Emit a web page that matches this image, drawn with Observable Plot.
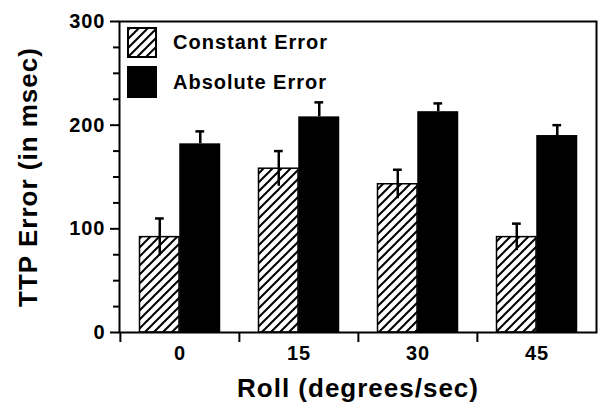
<!DOCTYPE html>
<html>
<head>
<meta charset="utf-8">
<script src="https://cdn.jsdelivr.net/npm/d3@7"></script>
<script src="https://cdn.jsdelivr.net/npm/@observablehq/plot@0.6"></script>
<style>
  body { margin: 0; background: #fff; }
  #wrap { position: relative; width: 600px; height: 406px; font-family: "Liberation Sans", Arial, Helvetica, sans-serif; font-weight: bold; color: #000; }
  .item { position: absolute; left: 127px; display: flex; align-items: center; }
  .box { width: 30px; height: 31px; box-sizing: border-box; border: 2px solid #000; }
  .box svg { display: block; }
  .lab { margin-left: 16px; font-size: 20px; letter-spacing: 1px; }
</style>
</head>
<body>
<svg width="0" height="0" style="position:absolute">
  <defs>
    <pattern id="hatch" patternUnits="userSpaceOnUse" width="9" height="9">
      <path d="M0,9 L9,0 M-2,2 L2,-2 M7,11 L11,7" stroke="#000" stroke-width="2"/>
    </pattern>
  </defs>
</svg>
<div id="wrap"></div>
<script>
const rolls = ["0", "15", "30", "45"];
const seriesNames = ["Constant Error", "Absolute Error"];
const constantError = [92, 158, 143, 92];
const constantErrorSE = [18, 17, 14, 13];
const absoluteError = [182, 208, 213, 190];
const absoluteErrorSE = [12, 14, 8, 10];
const yMajorTicks = [0, 100, 200, 300];
const yMinorTicks = [25, 50, 75, 125, 150, 175, 225, 250, 275];
const xTitle = "Roll (degrees/sec)";
const yTitle = "TTP Error (in msec)";

const ce = rolls.map((roll, i) => ({roll, value: constantError[i], lo: constantError[i] - constantErrorSE[i], hi: constantError[i] + constantErrorSE[i]}));
const ae = rolls.map((roll, i) => ({roll, value: absoluteError[i], lo: absoluteError[i], hi: absoluteError[i] + absoluteErrorSE[i]}));

const W = 600, H = 406, mL = 119, mR = 4, mT = 21, mB = 74;
const band = (W - mL - mR) / rolls.length;
const ff = '"Liberation Sans", Arial, Helvetica, sans-serif';

const chart = Plot.plot({
  width: W, height: H,
  marginLeft: mL, marginRight: mR, marginTop: mT, marginBottom: mB,
  style: {fontFamily: ff, fontWeight: "bold", color: "#000", background: "transparent", overflow: "visible", letterSpacing: "1px"},
  x: {type: "band", domain: rolls, padding: 0, axis: null},
  y: {domain: [0, 300], axis: null},
  marks: [
    Plot.barY(ce, {x: "roll", y: "value", fill: "url(#hatch)", stroke: "#000", strokeWidth: 1.5, insetLeft: 19.5, insetRight: band - 59.25}),
    Plot.barY(ae, {x: "roll", y: "value", fill: "#000", insetLeft: 59.25, insetRight: band - 100.5}),
    Plot.ruleX(ce, {x: "roll", y1: "lo", y2: "hi", dx: 39.4 - band / 2, strokeWidth: 2.5, stroke: "#000"}),
    Plot.tickY(ce, {x: "roll", y: "hi", insetLeft: 35, insetRight: band - 44, strokeWidth: 2.5, stroke: "#000"}),
    Plot.ruleX(ae, {x: "roll", y1: "lo", y2: "hi", dx: 79.9 - band / 2, strokeWidth: 2.5, stroke: "#000"}),
    Plot.tickY(ae, {x: "roll", y: "hi", insetLeft: 75.4, insetRight: band - 84.4, strokeWidth: 2.5, stroke: "#000"}),
    Plot.frame({stroke: "#000", strokeWidth: 2}),
    Plot.axisY({ticks: yMajorTicks, tickSize: 9, tickPadding: 5, fontSize: 20, strokeWidth: 2, label: null, tickFormat: d => String(d)}),
    Plot.axisY({ticks: yMinorTicks, tickSize: 6, strokeWidth: 2, label: null, tickFormat: () => ""}),
    Plot.axisX({tickSize: 0, tickPadding: 13, fontSize: 20, label: null}),
    Plot.axisX({tickSize: 10, strokeWidth: 2, dx: -band / 2, label: null, tickFormat: () => ""}),
    Plot.text([xTitle], {text: d => d, frameAnchor: "bottom", dy: 56, textAnchor: "middle", lineAnchor: "middle", fontSize: 26, fontWeight: "bold", fill: "#000"}),
    Plot.text([yTitle], {text: d => d, frameAnchor: "left", dx: -90.5, rotate: -90, textAnchor: "middle", lineAnchor: "middle", fontSize: 26, fontWeight: "bold", fill: "#000"})
  ]
});

const wrap = document.getElementById("wrap");
wrap.appendChild(chart);

// Legend (inside plot area, top-left)
const legendFills = [
  '<svg width="26" height="27"><rect width="26" height="27" fill="url(#hatch)"/></svg>',
  ''
];
seriesNames.forEach((name, i) => {
  const item = document.createElement("div");
  item.className = "item";
  item.style.top = (i === 0 ? 27 : 66) + "px";
  const box = document.createElement("div");
  box.className = "box";
  if (i === 1) { box.style.background = "#000"; box.style.height = "32px"; }
  box.innerHTML = legendFills[i];
  const lab = document.createElement("span");
  lab.className = "lab";
  lab.textContent = name;
  item.appendChild(box);
  item.appendChild(lab);
  wrap.appendChild(item);
});
</script>
</body>
</html>
